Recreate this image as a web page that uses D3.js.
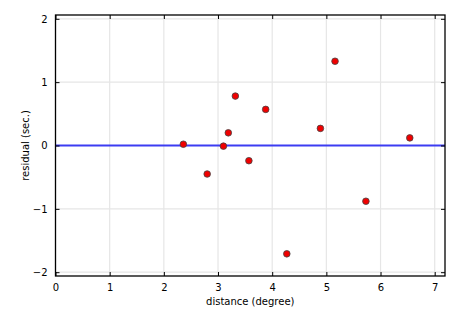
<!DOCTYPE html>
<html>
<head>
<meta charset="utf-8">
<script src="https://cdn.jsdelivr.net/npm/d3@7.9.0/dist/d3.min.js"></script>
<style>
  body { margin: 0; background: #fff; }
  svg { display: block; font-family: "DejaVu Sans", sans-serif; }
</style>
</head>
<body>
<svg id="chart"></svg>
<script>
// residuals vs distance
const distance = [2.36, 2.80, 3.10, 3.19, 3.32, 3.57, 3.88, 4.27, 4.89, 5.16, 5.73, 6.54];
const residual = [0.02, -0.45, -0.01, 0.20, 0.78, -0.24, 0.57, -1.71, 0.27, 1.33, -0.88, 0.12];
const xTicks = [0, 1, 2, 3, 4, 5, 6, 7];
const yTicks = [-2, -1, 0, 1, 2];

const width = 465;
const height = 315;
const margin = { top: 15, right: 20, bottom: 39, left: 55 };

const svg = d3.select('#chart')
  .attr('width', width)
  .attr('height', height);

const x = d3.scaleLinear().domain([0, 7.19]).range([margin.left + 0.5, width - margin.right]);
const y = d3.scaleLinear().domain([-2.06, 2.06]).range([height - margin.bottom, margin.top]);

const fmt = (d) => String(d).replace('-', '\u2212');

// grid
const grid = svg.append('g');
grid.selectAll('.gx').data(xTicks).join('line')
  .attr('x1', (d) => x(d)).attr('x2', (d) => x(d))
  .attr('y1', y.range()[0]).attr('y2', y.range()[1])
  .attr('stroke', '#e6e6e6').attr('stroke-width', 1.2);
grid.selectAll('.gy').data(yTicks).join('line')
  .attr('y1', (d) => y(d)).attr('y2', (d) => y(d))
  .attr('x1', x.range()[0]).attr('x2', x.range()[1])
  .attr('stroke', '#e6e6e6').attr('stroke-width', 1.2);

// zero line
svg.append('line')
  .attr('x1', x.range()[0]).attr('x2', x.range()[1])
  .attr('y1', y(0)).attr('y2', y(0))
  .attr('stroke', '#3c3cf2').attr('stroke-width', 2);

// points
svg.append('g').selectAll('circle')
  .data(distance.map((d, i) => [d, residual[i]]))
  .join('circle')
  .attr('cx', (d) => x(d[0]))
  .attr('cy', (d) => y(d[1]))
  .attr('r', 3.3)
  .attr('fill', '#f00000')
  .attr('stroke', '#444')
  .attr('stroke-width', 0.8);

// axes (ticks pointing inward on all sides)
const axisStyle = (g) => {
  g.select('.domain').remove();
  g.selectAll('.tick line').attr('stroke', '#000');
  g.selectAll('.tick text').attr('font-size', 10).attr('fill', '#000')
    .attr('font-family', '"DejaVu Sans", sans-serif');
};

svg.append('g')
  .attr('transform', `translate(0,${y.range()[0]})`)
  .call(d3.axisBottom(x).tickValues(xTicks).tickFormat(fmt).tickSizeInner(-4).tickSizeOuter(0).tickPadding(8))
  .call(axisStyle);
svg.append('g')
  .attr('transform', `translate(0,${y.range()[1]})`)
  .call(d3.axisTop(x).tickValues(xTicks).tickFormat('').tickSizeInner(-4).tickSizeOuter(0))
  .call(axisStyle);
svg.append('g')
  .attr('transform', `translate(${x.range()[0]},0)`)
  .call(d3.axisLeft(y).tickValues(yTicks).tickFormat(fmt).tickSizeInner(-4).tickSizeOuter(0).tickPadding(8))
  .call(axisStyle);
svg.append('g')
  .attr('transform', `translate(${x.range()[1]},0)`)
  .call(d3.axisRight(y).tickValues(yTicks).tickFormat('').tickSizeInner(-4).tickSizeOuter(0))
  .call(axisStyle);

// frame
svg.append('rect')
  .attr('x', x.range()[0]).attr('y', y.range()[1])
  .attr('width', x.range()[1] - x.range()[0])
  .attr('height', y.range()[0] - y.range()[1])
  .attr('fill', 'none').attr('stroke', '#000').attr('stroke-width', 1.3);

// labels
svg.append('text')
  .attr('x', (x.range()[0] + x.range()[1]) / 2).attr('y', 305)
  .attr('text-anchor', 'middle').attr('font-size', 10)
  .text('distance (degree)');
svg.append('text')
  .attr('transform', `translate(29,${(y.range()[0] + y.range()[1]) / 2}) rotate(-90)`)
  .attr('text-anchor', 'middle').attr('font-size', 10)
  .text('residual (sec.)');
</script>
</body>
</html>
